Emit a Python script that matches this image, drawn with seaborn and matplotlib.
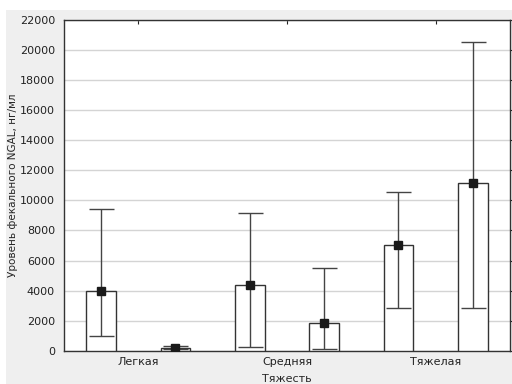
import matplotlib
matplotlib.use("Agg")
import matplotlib.pyplot as plt
import matplotlib.patches as mpatches
import seaborn as sns
import pandas as pd
import numpy as np

categories = ["Легкая", "Средняя", "Тяжелая"]
groups = ["Группа 1", "Группа 2"]
means_g1 = [3950, 4360, 7010]
means_g2 = [220, 1840, 11130]
lower_g1 = [975, 265, 2870]
upper_g1 = [9420, 9180, 10530]
lower_g2 = [120, 150, 2870]
upper_g2 = [330, 5490, 20500]

df = pd.DataFrame({
    "cat": categories * 2,
    "grp": [groups[0]] * 3 + [groups[1]] * 3,
    "val": means_g1 + means_g2,
})

sns.set_theme(style="white")
plt.rcParams["font.family"] = ["DejaVu Sans"]

fig = plt.figure(figsize=(5.12, 3.84), dpi=100)
fig.patch.set_facecolor("white")
bg = mpatches.Rectangle((6 / 512, 0), 1, 1 - 10 / 384, transform=fig.transFigure,
                        facecolor="#efefef", edgecolor="none", zorder=-10)
fig.patches.append(bg)

ax = fig.add_axes([64 / 512, 1 - 351 / 384, (510 - 64) / 512, (351 - 19.5) / 384])
ax.set_facecolor("white")

sns.barplot(data=df, x="cat", y="val", hue="grp", order=categories, hue_order=groups,
            width=1.0, gap=0.6, errorbar=None, palette=["white", "white"],
            edgecolor="#333333", linewidth=1.0, legend=False, ax=ax, zorder=3)

lows = [lower_g1, lower_g2]
ups = [upper_g1, upper_g2]
means = [means_g1, means_g2]
bar_containers = list(ax.containers)
for gi, cont in enumerate(bar_containers):
    for ci, bar in enumerate(cont):
        xc = bar.get_x() + bar.get_width() / 2
        m = means[gi][ci]
        ax.errorbar([xc], [m], yerr=[[m - lows[gi][ci]], [ups[gi][ci] - m]],
                    fmt="s", color="#1a1a1a", ecolor="#444444", elinewidth=1.0,
                    capsize=9, capthick=1.0, markersize=6, zorder=5)

ax.set_xlim(-0.5, 2.5)
ax.set_ylim(0, 22000)
ax.set_yticks(np.arange(0, 22001, 2000))
ax.yaxis.grid(True, color="#d4d4d4", linewidth=1.0)
ax.set_axisbelow(True)
ax.tick_params(axis="both", labelsize=8, colors="#222222", length=3, width=0.8)
ax.tick_params(axis="x", top=True, direction="in", pad=4)
ax.tick_params(axis="y", right=True, direction="out")
for sp in ax.spines.values():
    sp.set_visible(True)
    sp.set_color("#333333")
    sp.set_linewidth(1.0)

ax.set_xlabel("Тяжесть", fontsize=8, labelpad=5)
ax.set_ylabel("Уровень фекального NGAL, нг/мл", fontsize=7.5)
ax.yaxis.set_label_coords(-0.103, 0.5)

fig.savefig("out.png", dpi=100)
